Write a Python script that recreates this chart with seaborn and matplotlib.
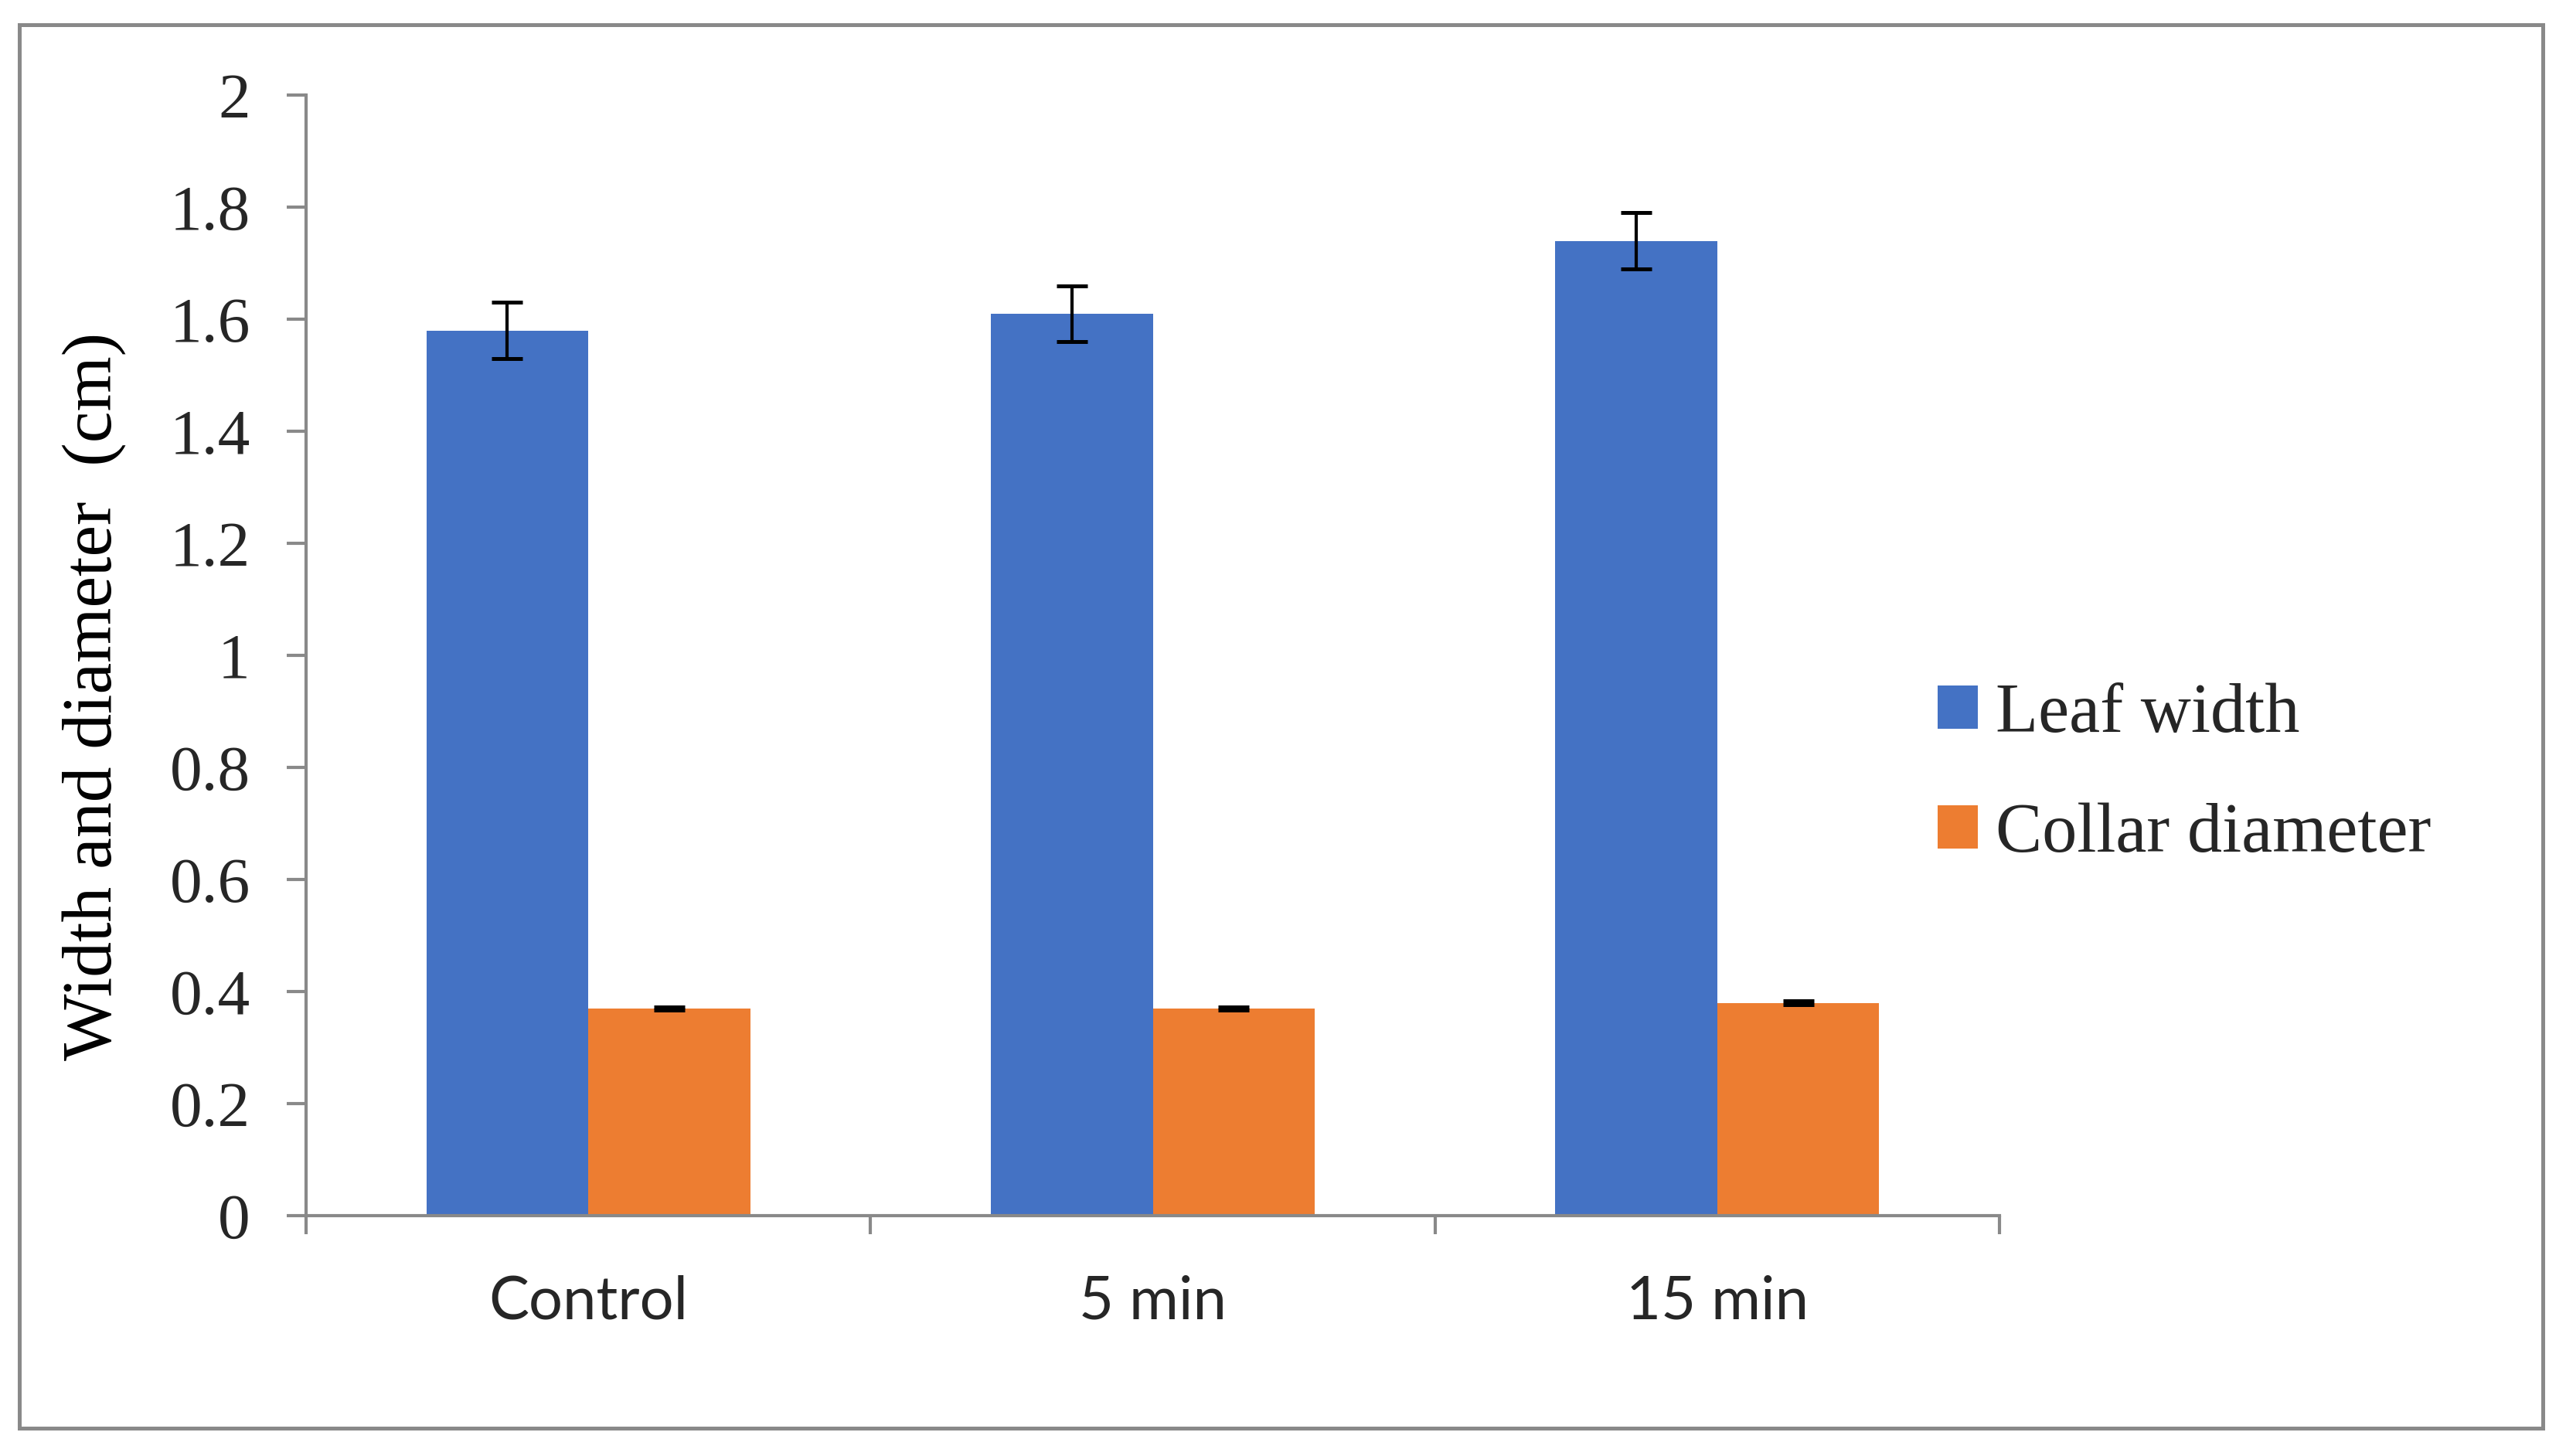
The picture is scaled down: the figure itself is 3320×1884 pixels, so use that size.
import matplotlib
matplotlib.use("Agg")
import matplotlib.pyplot as plt
import matplotlib.patches as mpatches
import seaborn as sns
import pandas as pd
import numpy as np

# ---- data ----
categories = ["Control", "5 min", "15 min"]
series_names = ["Leaf width", "Collar diameter"]
leaf_width = [1.58, 1.61, 1.74]
leaf_width_err = [0.05, 0.05, 0.05]
collar_diameter = [0.37, 0.37, 0.38]
collar_diameter_err = [0.003, 0.003, 0.003]
y_ticks = [0, 0.2, 0.4, 0.6, 0.8, 1, 1.2, 1.4, 1.6, 1.8, 2]
y_tick_labels = ["0", "0.2", "0.4", "0.6", "0.8", "1", "1.2", "1.4", "1.6", "1.8", "2"]
colors = ["#4472C4", "#ED7D31"]

df = pd.DataFrame({
    "Treatment": categories * 2,
    "Series": [series_names[0]] * 3 + [series_names[1]] * 3,
    "Value": leaf_width + collar_diameter,
})
errs = {series_names[0]: leaf_width_err, series_names[1]: collar_diameter_err}

sns.set_theme(style="white")
plt.rcParams["font.family"] = ["Liberation Serif", "DejaVu Serif"]

GRAY = "#898989"
fig = plt.figure(figsize=(16.6, 9.42), dpi=200)
ax = fig.add_axes([0.1193, 0.165, 0.6599, 0.7697])

sns.barplot(data=df, x="Treatment", y="Value", hue="Series", order=categories,
            hue_order=series_names, palette=colors, width=0.574, saturation=1,
            errorbar=None, ax=ax, legend=True, linewidth=0, edgecolor="none")

# error bars from bar geometry
for cont, name in zip(ax.containers, series_names):
    xs = [b.get_x() + b.get_width() / 2 for b in cont]
    hs = [b.get_height() for b in cont]
    ax.errorbar(xs, hs, yerr=errs[name], fmt="none", ecolor="black",
                elinewidth=1.5, capsize=7.2, capthick=1.8, zorder=5)

ax.set_ylim(0, 2)
ax.set_xlim(-0.5, 2.5)
ax.set_yticks(y_ticks)
ax.set_yticklabels(y_tick_labels, fontsize=30, family=["Liberation Serif"])
ax.tick_params(axis="y", direction="out", length=9, width=1.5, color=GRAY,
               pad=17, left=True)
ax.set_xticks([0, 1, 2])
ax.set_xticklabels(categories, fontsize=28, family=["Lato", "DejaVu Sans"])
ax.tick_params(axis="x", which="major", length=0, pad=27.5)
ax.set_xticks([-0.5, 0.5, 1.5, 2.5], minor=True)
ax.tick_params(axis="x", which="minor", direction="out", length=8.5, width=1.5,
               color=GRAY, bottom=True)
ax.set_xlabel("")
ax.set_ylabel("")

for s in ["top", "right"]:
    ax.spines[s].set_visible(False)
for s in ["left", "bottom"]:
    ax.spines[s].set_color(GRAY)
    ax.spines[s].set_linewidth(1.5)

fig.text(0.0365, 0.522, "Width and diameter  (cm)", rotation=90, ha="center",
         va="center", fontsize=33, family=["Liberation Serif"], color="black")

# legend
leg = ax.get_legend()
handles = leg.legend_handles
leg.remove()
for h in handles:
    h.set_edgecolor("none")
    h.set_linewidth(0)
fig.legend(handles, series_names, loc="center left", bbox_to_anchor=(0.7551, 0.468),
           frameon=False, handlelength=0.58, handleheight=0.58,
           handletextpad=0.25, labelspacing=0.8, borderpad=0, borderaxespad=0,
           prop={"family": "Liberation Serif", "size": 32.5})

# outer frame
fig.patches.append(mpatches.Rectangle((0.0075, 0.0191), 0.9835, 0.9639,
                                      transform=fig.transFigure, fill=False,
                                      edgecolor=GRAY, linewidth=1.8))

fig.savefig("out.png", dpi=200, facecolor="white")
